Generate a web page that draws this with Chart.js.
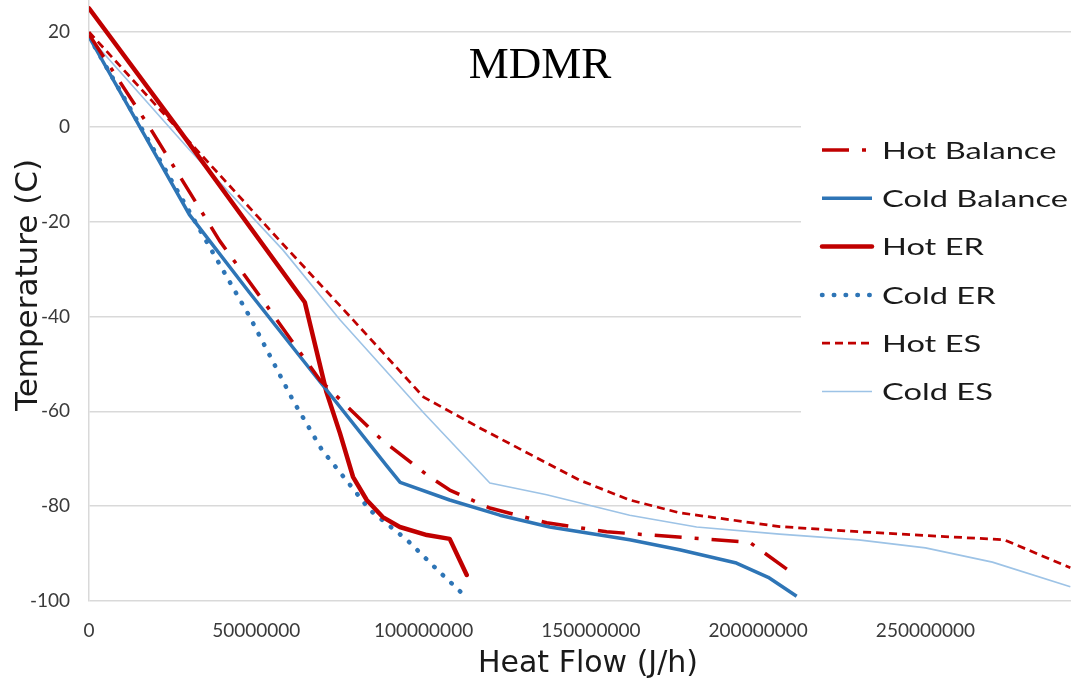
<!DOCTYPE html>
<html>
<head>
<meta charset="utf-8">
<script src="https://cdn.jsdelivr.net/npm/chart.js@4"></script>
<style>
  html, body { margin: 0; padding: 0; background: #fff; }
  #chart { display: block; }
</style>
</head>
<body>
<canvas id="chart" width="1071" height="692"></canvas>
<script>
// Heat flow (J/h) and temperature (C) for each curve
const hotBalanceQ = [0, 18e6, 39e6, 54e6, 69e6, 87.5e6, 101e6, 107.8e6, 119.8e6, 136.8e6, 154.7e6, 179.5e6, 197.4e6, 211e6];
const hotBalanceT = [19.5, 0, -24, -38.6, -53.4, -66, -73.4, -76.6, -80.4, -83.5, -85.4, -86.7, -87.6, -94.5];

const coldBalanceQ = [0, 30e6, 48e6, 71e6, 89e6, 93e6, 107.8e6, 122.8e6, 137.7e6, 161.6e6, 176.5e6, 193.5e6, 203e6, 211.5e6];
const coldBalanceT = [19, -18.5, -35, -55.5, -71.5, -75, -78.7, -81.9, -84.4, -87.1, -89.2, -92, -95, -99];

const hotERQ = [0, 26.3e6, 64.5e6, 71e6, 75e6, 78.9e6, 83e6, 87.8e6, 92.9e6, 101e6, 107.8e6, 112.9e6];
const hotERT = [25, 0, -37, -56, -64.6, -73.8, -78.7, -82.3, -84.4, -86.1, -86.9, -94.5];

const coldERQ = [0, 48e6, 60.9e6, 69.6e6, 78e6, 83.9e6, 95e6, 104.8e6, 112.6e6];
const coldERT = [19, -40, -57.6, -68.1, -75.5, -80.8, -87.1, -93.9, -99.1];

const hotESQ = [0, 57e6, 78e6, 100e6, 116.8e6, 136.8e6, 146.6e6, 161.6e6, 176.5e6, 206.4e6, 230e6, 273.6e6, 293.3e6];
const hotEST = [20, -24, -40, -57, -63.5, -70.9, -74.5, -78.7, -81.4, -84.3, -85.4, -87.1, -93];

const coldESQ = [0, 30.2e6, 58e6, 75e6, 100e6, 119.8e6, 136.8e6, 161.6e6, 181.6e6, 206.4e6, 230e6, 250e6, 270e6, 293.3e6];
const coldEST = [19, -5, -26, -40.7, -60.3, -75.1, -77.6, -81.9, -84.4, -85.9, -87.1, -88.8, -91.8, -97];

const seriesLabels = ["Hot Balance", "Cold Balance", "Hot ER", "Cold ER", "Hot ES", "Cold ES"];

const xTickValues = [0, 50e6, 100e6, 150e6, 200e6, 250e6];
const yTickValues = [-100, -80, -60, -40, -20, 0, 20];

const RED = "#c00000";
const BLUE = "#2e75b6";
const LIGHT_BLUE = "#9dc3e6";
const FONT = "Lato";
const TITLE_FONT = "'DejaVu Sans'";

function pts(qs, ts) {
  return qs.map((q, i) => ({ x: q, y: ts[i] }));
}

function line(label, data, color, width, dash, cap) {
  return {
    label,
    data,
    borderColor: color,
    backgroundColor: color,
    borderWidth: width,
    borderDash: dash || [],
    borderCapStyle: cap || "butt",
    borderJoinStyle: "round",
    pointRadius: 0,
    tension: 0,
    fill: false,
  };
}

const datasets = [
  line(seriesLabels[0], pts(hotBalanceQ, hotBalanceT), RED, 3.5, [27, 13, 4, 13]),
  line(seriesLabels[1], pts(coldBalanceQ, coldBalanceT), BLUE, 3.5),
  line(seriesLabels[2], pts(hotERQ, hotERT), RED, 4.5, null, "round"),
  line(seriesLabels[3], pts(coldERQ, coldERT), BLUE, 4.5, [0.5, 11.3], "round"),
  line(seriesLabels[4], pts(hotESQ, hotEST), RED, 2.75, [8, 5]),
  line(seriesLabels[5], pts(coldESQ, coldEST), LIGHT_BLUE, 1.6),
];

// text drawn with a horizontal stretch so it fills the given width
function stretchText(ctx, text, x, y, width) {
  const w = ctx.measureText(text).width;
  ctx.save();
  ctx.translate(x, y);
  ctx.scale(width / w, 1);
  ctx.fillText(text, 0, 0);
  ctx.restore();
}

// legend on a white box inside the plot, the MDMR label and both axis titles
const overlay = {
  id: "overlay",
  afterDatasetsDraw(chart) {
    const ctx = chart.ctx;
    ctx.save();
    ctx.fillStyle = "#fff";
    ctx.fillRect(801, 122, 270, 296);

    ctx.font = `24px ${FONT}`;
    const stretch = 186 / ctx.measureText("Cold Balance").width;
    chart.data.datasets.forEach((ds, i) => {
      const y = 150 + i * 48.3;
      ctx.strokeStyle = ds.borderColor;
      ctx.lineWidth = ds.borderWidth;
      ctx.setLineDash(ds.borderDash);
      ctx.lineCap = ds.borderCapStyle;
      ctx.beginPath();
      ctx.moveTo(822, y);
      ctx.lineTo(872, y);
      ctx.stroke();
      ctx.setLineDash([]);
      ctx.fillStyle = "#1a1a1a";
      ctx.textAlign = "left";
      ctx.textBaseline = "middle";
      stretchText(ctx, ds.label, 882, y + 1, ctx.measureText(ds.label).width * stretch);
    });

    ctx.font = "45px 'Liberation Serif'";
    ctx.textAlign = "center";
    ctx.textBaseline = "alphabetic";
    ctx.fillStyle = "#000";
    ctx.fillText("MDMR", 540, 78);

    ctx.fillStyle = "#1a1a1a";
    ctx.textBaseline = "middle";
    ctx.font = `30px ${TITLE_FONT}`;
    ctx.fillText("Heat Flow (J/h)", 588, 664);
    ctx.save();
    ctx.translate(29, 285);
    ctx.rotate(-Math.PI / 2);
    ctx.font = `31px ${TITLE_FONT}`;
    ctx.fillText("Temperature (C)", 0, 0);
    ctx.restore();
    ctx.restore();
  },
};

new Chart(document.getElementById("chart"), {
  type: "line",
  data: { datasets },
  plugins: [overlay],
  options: {
    responsive: false,
    animation: false,
    layout: { padding: 0, autoPadding: false },
    plugins: {
      legend: { display: false },
      tooltip: { enabled: false },
    },
    scales: {
      x: {
        type: "linear",
        min: 0,
        max: 293.5e6,
        afterBuildTicks: (s) => {
          s.ticks = xTickValues.map((v) => ({ value: v }));
        },
        afterFit: (s) => {
          s.height = 91;
          s.paddingLeft = 0;
          s.paddingRight = 0;
        },
        grid: { display: false, drawTicks: false },
        border: { display: false },
        ticks: {
          autoSkip: false,
          padding: 18,
          maxRotation: 0,
          color: "#3a3a3a",
          font: { family: FONT, size: 19 },
          callback: (v) => String(v),
        },
      },
      y: {
        min: -100,
        max: 26.75,
        afterBuildTicks: (s) => {
          s.ticks = yTickValues.map((v) => ({ value: v }));
        },
        afterFit: (s) => {
          s.width = 89;
          s.paddingTop = 0;
          s.paddingBottom = 0;
        },
        grid: { color: "#d9d9d9", lineWidth: 1.5, drawTicks: false },
        border: { display: true, color: "#d9d9d9", width: 1.5 },
        ticks: {
          padding: 19,
          color: "#3a3a3a",
          font: { family: FONT, size: 19 },
          callback: (v) => String(v),
        },
      },
    },
  },
});
</script>
</body>
</html>
